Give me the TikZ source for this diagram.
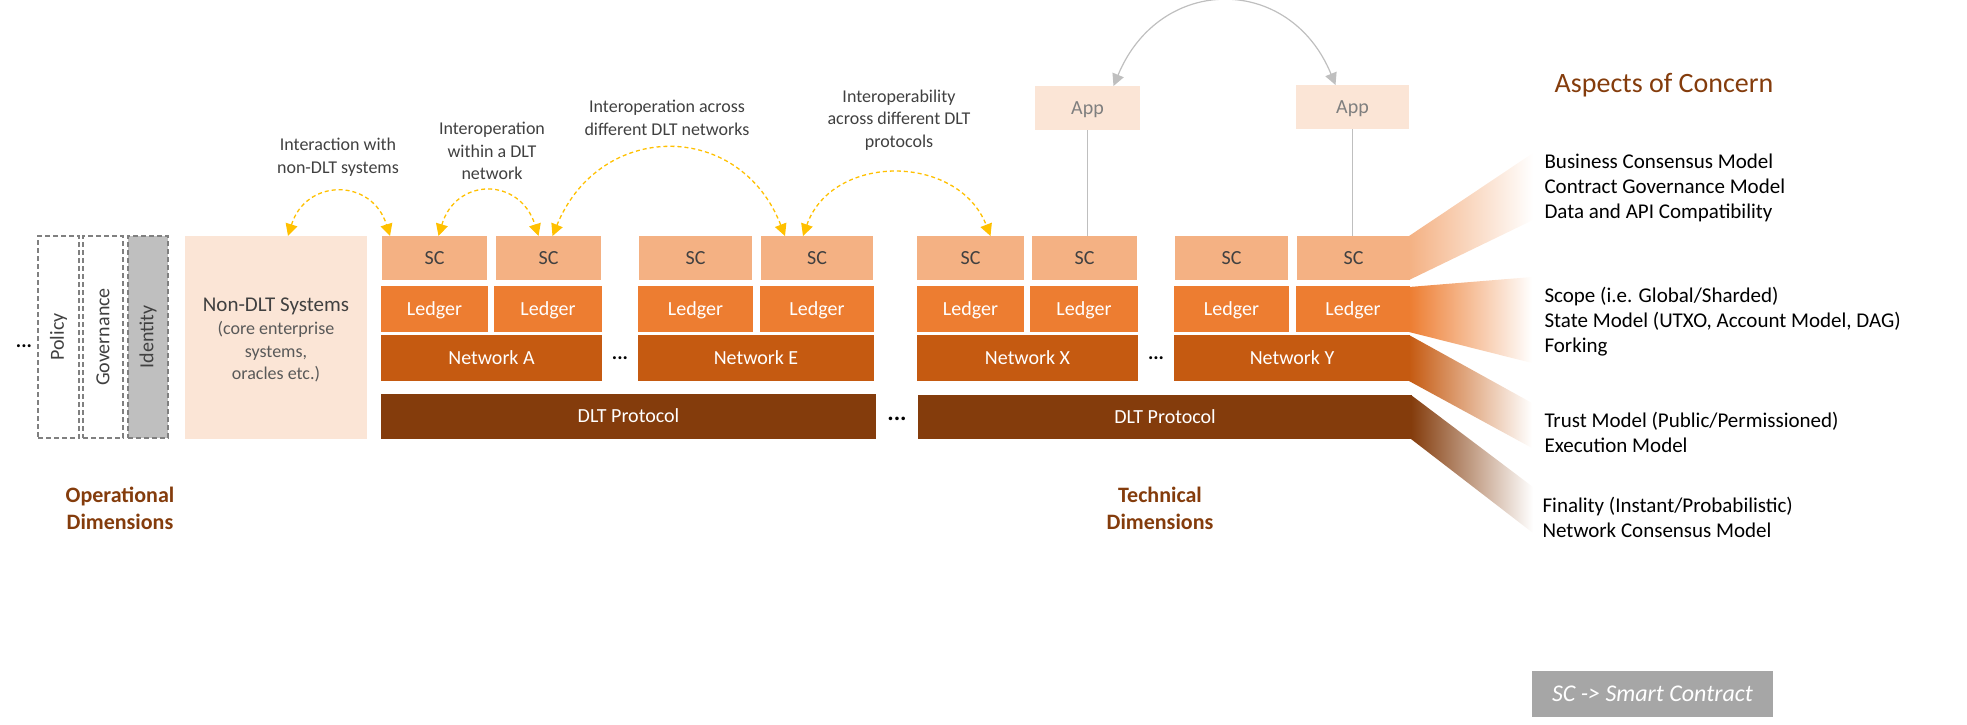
\documentclass[tikz,border=0pt]{standalone}
\usepackage{fontspec}
\setmainfont{Carlito}
\usetikzlibrary{arrows.meta}
\definecolor{cSC}{HTML}{F4B183}
\definecolor{cLed}{HTML}{ED7D31}
\definecolor{cNet}{HTML}{C55A11}
\definecolor{cDLT}{HTML}{843C0C}
\definecolor{cPale}{HTML}{FBE5D6}
\definecolor{cIdent}{HTML}{BFBFBF}
\definecolor{cTxt}{HTML}{404040}
\definecolor{cSub}{HTML}{595959}
\definecolor{cYel}{HTML}{FFC000}
\definecolor{cGrayLn}{HTML}{BFBFBF}
\definecolor{cLegend}{HTML}{A6A6A6}
\definecolor{cBrown}{HTML}{843C0C}
\definecolor{cDash}{HTML}{808080}
\definecolor{cApp}{HTML}{7F7F7F}
\newcommand\bx[7]{\node[#2, minimum width={(#5-#3)*1pt}, minimum height={(#6-#4)*1pt}] (#1) at ({(#3+#5)/2},{(#4+#6)/2}) {#7};}
\tikzset{
  blk/.style={inner sep=0pt, outer sep=0pt, font=\fontsize{20}{24}\selectfont, text height=12pt, text depth=0pt},
  scb/.style={blk, fill=cSC, text=cTxt},
  ledb/.style={blk, fill=cLed, text=white},
  netb/.style={blk, fill=cNet, text=white},
  dltb/.style={blk, fill=cDLT, text=white},
  paleb/.style={blk, fill=cPale},
  appb/.style={blk, fill=cPale, text=cApp},
  dimbox/.style={blk, draw=cDash, line width=1.6pt, dash pattern=on 5pt off 3pt},
  rottxt/.style={rotate=90, text=cTxt, font=\fontsize{20}{24}\selectfont},
  annot/.style={align=center, text=cTxt, font=\fontsize{18}{22.5}\selectfont},
  aspect/.style={align=left, anchor=west, text=black, font=\fontsize{21}{25}\selectfont},
  dimlabel/.style={align=center, text=cBrown, font=\bfseries\fontsize{22}{27}\selectfont},
  dots/.style={font=\bfseries\fontsize{20}{24}\selectfont, text=black},
  yarc/.style={draw=cYel, line width=1.3pt, dash pattern=on 4pt off 3pt, {Triangle[length=12pt,width=12pt]}-{Triangle[length=12pt,width=12pt]}},
  garc/.style={draw=cGrayLn, line width=1.2pt, {Triangle[length=12pt,width=12pt]}-{Triangle[length=12pt,width=12pt]}},
  gline/.style={draw=cGrayLn, line width=1.2pt}
}
\begin{document}
\begin{tikzpicture}[x=1pt, y=-1pt]
\useasboundingbox (0,0) rectangle (1967,724);

% fans
\shade[left color=cSC, right color=white] (1409,236) -- (1533,153) -- (1533,220) -- (1409,280) -- cycle;
\shade[left color=cLed, right color=white] (1409,287) -- (1532,277) -- (1532,363) -- (1409,332) -- cycle;
\shade[left color=cNet, right color=white] (1409,335) -- (1532,403) -- (1532,448) -- (1409,381) -- cycle;
\shade[left color=cDLT, right color=white] (1411,395) -- (1533,487) -- (1533,533) -- (1411,439) -- cycle;

% operational dimensions
\node[dots] (dotsL) at (24,346) {...};
\bx{policy}{dimbox}{38}{236}{79}{438}{}
\bx{gov}{dimbox}{83}{236}{123}{438}{}
\bx{ident}{dimbox, fill=cIdent}{128}{236}{168}{438}{}
\node[rottxt] (policyT) at (policy.center) {Policy};
\node[rottxt] (govT) at (gov.center) {Governance};
\node[rottxt] (identT) at (ident.center) {Identity};

\bx{nondlt}{paleb}{185}{236}{367}{439}{}
\node[text=cTxt, font=\fontsize{21}{25}\selectfont] (nondltT) at (276,306) {Non-DLT Systems};
\node[annot, text=cSub] (nondltS) at (276,352) {(core enterprise\\systems,\\oracles etc.)};

% stack A / E
\bx{scA1}{scb}{382}{236}{487}{280}{SC}
\bx{scA2}{scb}{496}{236}{601}{280}{SC}
\bx{ledA1}{ledb}{381}{286}{488}{332}{Ledger}
\bx{ledA2}{ledb}{494}{286}{602}{332}{Ledger}
\bx{netA}{netb}{381}{335}{602}{381}{Network A}
\node[dots] (dotsAE) at (620,358) {...};
\bx{scE1}{scb}{639}{236}{752}{280}{SC}
\bx{scE2}{scb}{761}{236}{873}{280}{SC}
\bx{ledE1}{ledb}{638}{286}{753}{332}{Ledger}
\bx{ledE2}{ledb}{760}{286}{874}{332}{Ledger}
\bx{netE}{netb}{638}{335}{874}{381}{Network E}
\bx{dlt1}{dltb}{381}{394}{876}{439}{DLT Protocol}
\node[dots, font=\bfseries\fontsize{24}{28}\selectfont] (dotsD) at (897,419) {...};

% stack X / Y
\bx{scX1}{scb}{917}{236}{1024}{280}{SC}
\bx{scX2}{scb}{1032}{236}{1137}{280}{SC}
\bx{ledX1}{ledb}{917}{286}{1024}{332}{Ledger}
\bx{ledX2}{ledb}{1030}{286}{1138}{332}{Ledger}
\bx{netX}{netb}{917}{335}{1138}{381}{Network X}
\node[dots] (dotsXY) at (1156,358) {...};
\bx{scY1}{scb}{1175}{236}{1288}{280}{SC}
\bx{scY2}{scb}{1297}{236}{1410}{280}{SC}
\bx{ledY1}{ledb}{1174}{286}{1289}{332}{Ledger}
\bx{ledY2}{ledb}{1296}{286}{1410}{332}{Ledger}
\bx{netY}{netb}{1174}{335}{1410}{381}{Network Y}
\bx{dlt2}{dltb}{918}{395}{1412}{439}{DLT Protocol}

% apps
\bx{app1}{appb}{1035}{86}{1140}{130}{App}
\bx{app2}{appb}{1296}{85}{1409}{129}{App}
\draw[gline] (app1.south) -- (app1.south |- scX2.north);
\draw[gline] (app2.south) -- (app2.south |- scY2.north);
\draw[garc] ([xshift=26pt]app1.north) .. controls (1160,-26) and (1290,-26) .. ([xshift=-17pt]app2.north);

% annotations
\node[annot] (a1) at (338,157) {Interaction with\\non-DLT systems};
\node[annot] (a2) at (492,151) {Interoperation\\within a DLT\\network};
\node[annot] (a3) at (667,118) {Interoperation across\\different DLT networks};
\node[annot] (a4) at (899,120) {Interoperability\\across different DLT\\protocols};

% yellow arcs
\draw[yarc] ([xshift=12pt]nondlt.north) .. controls (306,178) and (372,178) .. ([xshift=8pt]scA1.north west);
\draw[yarc] ([xshift=4pt]scA1.north) .. controls (456,177) and (520,177) .. ([xshift=-10pt]scA2.north);
\draw[yarc] ([xshift=4pt]scA2.north) .. controls (600,120) and (740,120) .. ([xshift=-32pt]scE2.north);
\draw[yarc] ([xshift=-14pt]scE2.north) .. controls (832,153) and (958,153) .. ([xshift=20pt]scX1.north);

% aspects
\node[text=cBrown, font=\fontsize{28}{32}\selectfont] (aoc) at (1664,85) {Aspects of Concern};
\node[aspect] (asp1) at (1541,188) {Business Consensus Model\\Contract Governance Model\\Data and API Compatibility};
\node[aspect] (asp2) at (1541,322) {Scope (i.e. Global/Sharded)\\State Model (UTXO, Account Model, DAG)\\Forking};
\node[aspect] (asp3) at (1541,432) {Trust Model (Public/Permissioned)\\Execution Model};
\node[aspect] (asp4) at (1539,517) {Finality (Instant/Probabilistic)\\Network Consensus Model};

% dimension labels
\node[dimlabel] (opdim) at (120,508) {Operational\\Dimensions};
\node[dimlabel] (techdim) at (1160,508) {Technical\\Dimensions};

% legend
\bx{legend}{blk, fill=cLegend, text=white, font=\itshape\fontsize{24}{28}\selectfont, text height=15pt}{1532}{671}{1773}{717}{SC -> Smart Contract}
\end{tikzpicture}
\end{document}
